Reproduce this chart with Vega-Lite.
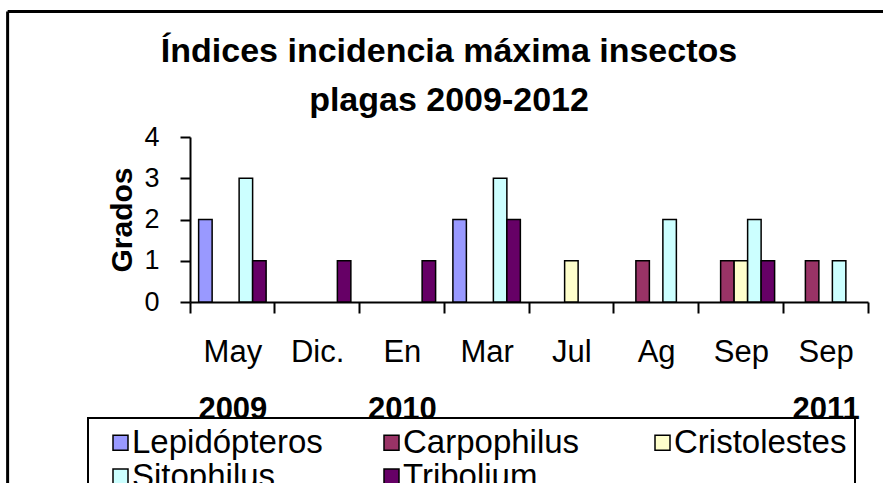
{
  "$schema": "https://vega.github.io/schema/vega-lite/v6.json",
  "width": 678,
  "height": 165,
  "autosize": {"type": "none"},
  "padding": {"left": 190, "top": 137, "right": 15, "bottom": 181},
  "background": "white",
  "title": {
    "text": ["Índices incidencia máxima insectos", "plagas 2009-2012"],
    "fontSize": 34,
    "fontWeight": "bold",
    "font": "Liberation Sans",
    "lineHeight": 49,
    "anchor": "middle",
    "dx": -80,
    "offset": -108,
    "color": "black"
  },
  "data": {
    "values": [
      {"cat": "May|2009", "series": "Lepidópteros", "value": 2},
      {"cat": "May|2009", "series": "Sitophilus", "value": 3},
      {"cat": "May|2009", "series": "Tribolium", "value": 1},
      {"cat": "Dic.|", "series": "Tribolium", "value": 1},
      {"cat": "En|2010", "series": "Tribolium", "value": 1},
      {"cat": "Mar|", "series": "Lepidópteros", "value": 2},
      {"cat": "Mar|", "series": "Sitophilus", "value": 3},
      {"cat": "Mar|", "series": "Tribolium", "value": 2},
      {"cat": "Jul|", "series": "Cristolestes", "value": 1},
      {"cat": "Ag|", "series": "Carpophilus", "value": 1},
      {"cat": "Ag|", "series": "Sitophilus", "value": 2},
      {"cat": "Sep|", "series": "Carpophilus", "value": 1},
      {"cat": "Sep|", "series": "Cristolestes", "value": 1},
      {"cat": "Sep|", "series": "Sitophilus", "value": 2},
      {"cat": "Sep|", "series": "Tribolium", "value": 1},
      {"cat": "Sep|2011", "series": "Carpophilus", "value": 1},
      {"cat": "Sep|2011", "series": "Sitophilus", "value": 1}
    ]
  },
  "layer": [
    {
      "mark": {"type": "bar", "stroke": "black", "strokeWidth": 1.5},
      "encoding": {
        "x": {
          "field": "cat",
          "type": "nominal",
          "sort": null,
          "scale": {
            "domain": ["May|2009", "Dic.|", "En|2010", "Mar|", "Jul|", "Ag|", "Sep|", "Sep|2011"],
            "paddingInner": 0,
            "paddingOuter": 0
          },
          "axis": {
            "orient": "bottom",
            "labels": false,
            "ticks": true,
            "bandPosition": 1,
            "tickExtra": true,
            "tickSize": 11,
            "tickWidth": 2,
            "domainWidth": 2,
            "domainColor": "black",
            "tickColor": "black",
            "title": null
          }
        },
        "xOffset": {
          "field": "series",
          "type": "nominal",
          "scale": {
            "domain": ["Lepidópteros", "Carpophilus", "Cristolestes", "Sitophilus", "Tribolium"],
            "paddingInner": 0,
            "paddingOuter": 0.64
          }
        },
        "y": {
          "field": "value",
          "type": "quantitative",
          "scale": {"domain": [0, 4], "nice": false},
          "axis": {
            "orient": "left",
            "values": [0, 1, 2, 3, 4],
            "grid": false,
            "tickSize": 10,
            "tickWidth": 2,
            "domainWidth": 2,
            "domainColor": "black",
            "tickColor": "black",
            "labelFontSize": 27,
            "labelPadding": 21,
            "labelColor": "black",
            "title": "Grados",
            "titleFontSize": 30,
            "titleFontWeight": "bold",
            "titleColor": "black",
            "titlePadding": 6
          }
        },
        "color": {
          "field": "series",
          "type": "nominal",
          "scale": {
            "domain": ["Lepidópteros", "Carpophilus", "Cristolestes", "Sitophilus", "Tribolium"],
            "range": ["#9999FF", "#993366", "#FFFFCC", "#CCFFFF", "#660066"]
          },
          "legend": {
            "orient": "none",
            "legendX": -102,
            "legendY": 281,
            "direction": "horizontal",
            "columns": 3,
            "gridAlign": "all",
            "title": null,
            "labelFontSize": 33,
            "labelColor": "black",
            "labelLimit": 400,
            "symbolType": "square",
            "symbolSize": 225,
            "symbolStrokeColor": "black",
            "symbolStrokeWidth": 1.5,
            "symbolOffset": 8,
            "labelOffset": -5,
            "padding": 8,
            "strokeColor": "black",
            "fillColor": "white",
            "columnPadding": 44,
            "rowPadding": -5
          }
        }
      }
    },
    {
      "mark": {"type": "text", "text": ""},
      "encoding": {
        "x": {
          "field": "cat",
          "type": "nominal",
          "sort": null,
          "scale": {
            "domain": ["May|2009", "Dic.|", "En|2010", "Mar|", "Jul|", "Ag|", "Sep|", "Sep|2011"],
            "paddingInner": 0,
            "paddingOuter": 0
          },
          "axis": {
            "orient": "bottom",
            "labelExpr": "split(datum.value, '|')[0]",
            "ticks": false,
            "tickSize": 0,
            "domain": false,
            "labelFontSize": 31,
            "labelColor": "black",
            "labelPadding": 35,
            "labelAngle": 0,
            "title": null
          }
        }
      }
    },
    {
      "mark": {"type": "text", "text": ""},
      "encoding": {
        "x": {
          "field": "cat",
          "type": "nominal",
          "sort": null,
          "scale": {
            "domain": ["May|2009", "Dic.|", "En|2010", "Mar|", "Jul|", "Ag|", "Sep|", "Sep|2011"],
            "paddingInner": 0,
            "paddingOuter": 0
          },
          "axis": {
            "orient": "bottom",
            "labelExpr": "split(datum.value, '|')[1]",
            "ticks": false,
            "tickSize": 0,
            "domain": false,
            "labelFontSize": 31,
            "labelFontWeight": "bold",
            "labelColor": "black",
            "labelPadding": 92,
            "labelAngle": 0,
            "title": null
          }
        }
      }
    },
    {
      "data": {"values": [{}]},
      "mark": {"type": "rule", "stroke": "black", "strokeWidth": 3},
      "encoding": {
        "x": {"datum": -0.269, "type": "quantitative", "scale": {"domain": [0, 1], "nice": false, "zero": false}, "axis": null},
        "y": {"datum": 7.04, "type": "quantitative", "scale": {"domain": [0, 4], "nice": false, "zero": false}, "axis": null},
        "y2": {"datum": -5}
      }
    },
    {
      "data": {"values": [{}]},
      "mark": {"type": "rule", "stroke": "black", "strokeWidth": 3},
      "encoding": {
        "x": {"datum": -0.269, "type": "quantitative", "scale": {"domain": [0, 1], "nice": false, "zero": false}, "axis": null},
        "x2": {"datum": 1.1},
        "y": {"datum": 7.04, "type": "quantitative", "scale": {"domain": [0, 4], "nice": false, "zero": false}, "axis": null}
      }
    }
  ],
  "resolve": {
    "scale": {"x": "independent", "y": "independent"},
    "axis": {"x": "independent", "y": "independent"}
  },
  "config": {
    "font": "Liberation Sans",
    "view": {"stroke": null},
    "axis": {"labelFont": "Liberation Sans", "titleFont": "Liberation Sans", "grid": false},
    "legend": {"labelFont": "Liberation Sans", "strokeWidth": 2}
  }
}
